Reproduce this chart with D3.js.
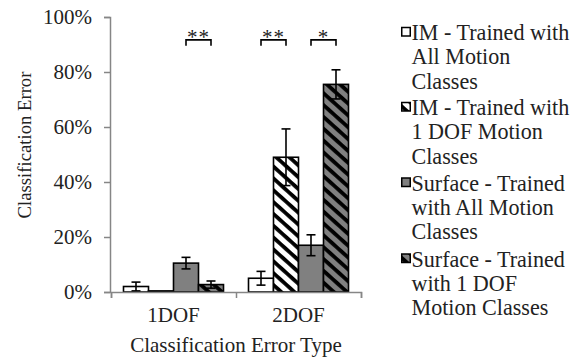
<!DOCTYPE html>
<html>
<head>
<meta charset="utf-8">
<script src="https://cdn.jsdelivr.net/npm/d3@7"></script>
<style>
  body { margin: 0; background: #fff; }
</style>
</head>
<body>
<svg id="chart"></svg>
<script>
let width = 577
let height = 358
let serif = '"Liberation Serif", "Times New Roman", serif'

// data
let categories = ['1DOF', '2DOF']
let seriesNames = ['IM - Trained with All Motion Classes', 'IM - Trained with 1 DOF Motion Classes',
                   'Surface - Trained with All Motion Classes', 'Surface - Trained with 1 DOF Motion Classes']
let imAll = [0.020, 0.050]
let imAllErr = [0.016, 0.025]
let im1dof = [0.004, 0.490]
let im1dofErr = [0.000, 0.103]
let surfAll = [0.105, 0.170]
let surfAllErr = [0.021, 0.038]
let surf1dof = [0.027, 0.755]
let surf1dofErr = [0.013, 0.053]
let yTicks = [0, 0.2, 0.4, 0.6, 0.8, 1.0]

// significance brackets: category, first bar, second bar, label
let sigCats = ['1DOF', '2DOF', '2DOF']
let sigFrom = [2, 0, 2]
let sigTo = [3, 1, 3]
let sigLabels = ['**', '**', '*']

let legendLines = [
    ['IM - Trained with', 'All Motion', 'Classes'],
    ['IM - Trained with', '1 DOF Motion', 'Classes'],
    ['Surface - Trained', 'with All Motion', 'Classes'],
    ['Surface - Trained', 'with 1 DOF', 'Motion Classes']
]

let seriesValues = [imAll, im1dof, surfAll, surf1dof]
let seriesErrors = [imAllErr, im1dofErr, surfAllErr, surf1dofErr]
let fills = ['#ffffff', 'url(#hatchWhite)', '#808080', 'url(#hatchGray)']
let textColor = '#222222'

let svg = d3.select('#chart')
    .attr('width', width)
    .attr('height', height)

let defs = svg.append('defs')
let makeHatch = (id, bg) => {
    let p = defs.append('pattern')
        .attr('id', id)
        .attr('patternUnits', 'userSpaceOnUse')
        .attr('width', 8.8)
        .attr('height', 8.8)
        .attr('patternTransform', 'rotate(42)')
    p.append('rect').attr('width', 8.8).attr('height', 8.8).attr('fill', bg)
    p.append('rect').attr('y', 0).attr('width', 8.8).attr('height', 3.8).attr('fill', '#000')
}
makeHatch('hatchWhite', '#ffffff')
makeHatch('hatchGray', '#808080')

let plotLeft = 111
let plotRight = 361
let plotTop = 17
let plotBottom = 292

let yScale = d3.scaleLinear().domain([0, 1]).range([plotBottom, plotTop])
let x0 = d3.scaleBand().domain(categories).range([plotLeft, plotRight])
let x1 = d3.scaleBand().domain(d3.range(4)).range([0, x0.bandwidth()]).paddingInner(0).paddingOuter(0.5)

// y axis
let yAxis = d3.axisLeft(yScale)
    .tickValues(yTicks)
    .tickFormat(d3.format('.0%'))
    .tickSize(6)
    .tickPadding(12)

let gy = svg.append('g')
    .attr('transform', 'translate(' + (plotLeft - 1) + ', 0)')
    .call(yAxis)
gy.selectAll('path, line').attr('stroke', '#868686').attr('stroke-width', 1.5)
gy.selectAll('text')
    .style('font-family', serif)
    .style('font-size', '21px')
    .attr('fill', textColor)

// bars
let groups = svg.selectAll('.grp')
    .data(categories)
    .enter()
    .append('g')
    .attr('class', 'grp')
    .attr('transform', (c) => 'translate(' + x0(c) + ', 0)')

groups.each(function (c, ci) {
    let g = d3.select(this)
    let rows = seriesValues.map((s, si) => ({ si: si, v: s[ci], e: seriesErrors[si][ci] }))

    g.selectAll('rect')
        .data(rows)
        .enter()
        .append('rect')
        .attr('x', (d) => x1(d.si))
        .attr('width', x1.bandwidth())
        .attr('y', (d) => yScale(d.v))
        .attr('height', (d) => yScale(0) - yScale(d.v))
        .attr('fill', (d) => fills[d.si])
        .attr('stroke', '#000')
        .attr('stroke-width', 1.6)

    let eb = g.selectAll('.err')
        .data(rows.filter((d) => d.e > 0))
        .enter()
        .append('g')
        .attr('class', 'err')
        .attr('stroke', '#000')
        .attr('stroke-width', 1.6)
    eb.append('line')
        .attr('x1', (d) => x1(d.si) + x1.bandwidth() / 2)
        .attr('x2', (d) => x1(d.si) + x1.bandwidth() / 2)
        .attr('y1', (d) => yScale(d.v + d.e))
        .attr('y2', (d) => yScale(d.v - d.e))
    eb.selectAll('.cap')
        .data((d) => [d.v + d.e, d.v - d.e].map((val) => ({ si: d.si, val: val })))
        .enter()
        .append('line')
        .attr('x1', (d) => x1(d.si) + x1.bandwidth() / 2 - 4.5)
        .attr('x2', (d) => x1(d.si) + x1.bandwidth() / 2 + 4.5)
        .attr('y1', (d) => yScale(d.val))
        .attr('y2', (d) => yScale(d.val))
})

// x axis: boundary ticks
let xEdge = d3.scaleLinear().domain([0, categories.length]).range([plotLeft, plotRight])
let gxTicks = svg.append('g')
    .attr('transform', 'translate(0, ' + plotBottom + ')')
    .call(d3.axisBottom(xEdge).ticks(categories.length).tickFormat('').tickSize(6))
gxTicks.selectAll('path, line').attr('stroke', '#868686').attr('stroke-width', 1.5)

// x axis: category labels
let gx = svg.append('g')
    .attr('transform', 'translate(0, ' + plotBottom + ')')
    .call(d3.axisBottom(x0).tickSize(0).tickPadding(15))
gx.select('.domain').remove()
gx.selectAll('text')
    .style('font-family', serif)
    .style('font-size', '21px')
    .attr('fill', textColor)

// significance brackets
let sigLevel = 0.917
sigLabels.forEach((lab, i) => {
    let cx = x0(sigCats[i])
    let xa = cx + x1(sigFrom[i]) + x1.bandwidth() / 2
    let xb = cx + x1(sigTo[i]) + x1.bandwidth() / 2
    let yb = yScale(sigLevel)
    svg.append('path')
        .attr('d', 'M' + xa + ',' + (yb + 6) + 'V' + yb + 'H' + xb + 'V' + (yb + 6))
        .attr('fill', 'none')
        .attr('stroke', '#000')
        .attr('stroke-width', 1.6)
    svg.append('text')
        .attr('x', (xa + xb) / 2)
        .attr('y', yb + 4)
        .attr('text-anchor', 'middle')
        .attr('fill', textColor)
        .style('font-family', serif)
        .style('font-size', '21px')
        .style('letter-spacing', '1px')
        .text(lab)
})

// axis titles
svg.append('text')
    .attr('transform', 'translate(31, 145) rotate(-90)')
    .attr('text-anchor', 'middle')
    .attr('fill', textColor)
    .style('font-family', serif)
    .style('font-size', '18.7px')
    .text('Classification Error')

svg.append('text')
    .attr('x', (plotLeft + plotRight) / 2)
    .attr('y', 352)
    .attr('text-anchor', 'middle')
    .attr('fill', textColor)
    .style('font-family', serif)
    .style('font-size', '21px')
    .text('Classification Error Type')

// legend
let legendTop = [40, 115, 190.5, 266.5]
let lineGap = 24.4
let leg = svg.selectAll('.leg')
    .data(legendLines)
    .enter()
    .append('g')
    .attr('class', 'leg')
    .attr('transform', (d, i) => 'translate(401, ' + legendTop[i] + ')')

leg.append('rect')
    .attr('x', 0.75)
    .attr('y', -12.5)
    .attr('width', 8.5)
    .attr('height', 8.5)
    .attr('fill', (d, i) => fills[i])
    .attr('stroke', '#000')
    .attr('stroke-width', 1.5)

leg.each(function (lines) {
    d3.select(this).selectAll('text')
        .data(lines)
        .enter()
        .append('text')
        .attr('x', 10.5)
        .attr('y', (d, j) => j * lineGap)
        .attr('fill', textColor)
        .style('font-family', serif)
        .style('font-size', '22.1px')
        .text((d) => d)
})
</script>
</body>
</html>
